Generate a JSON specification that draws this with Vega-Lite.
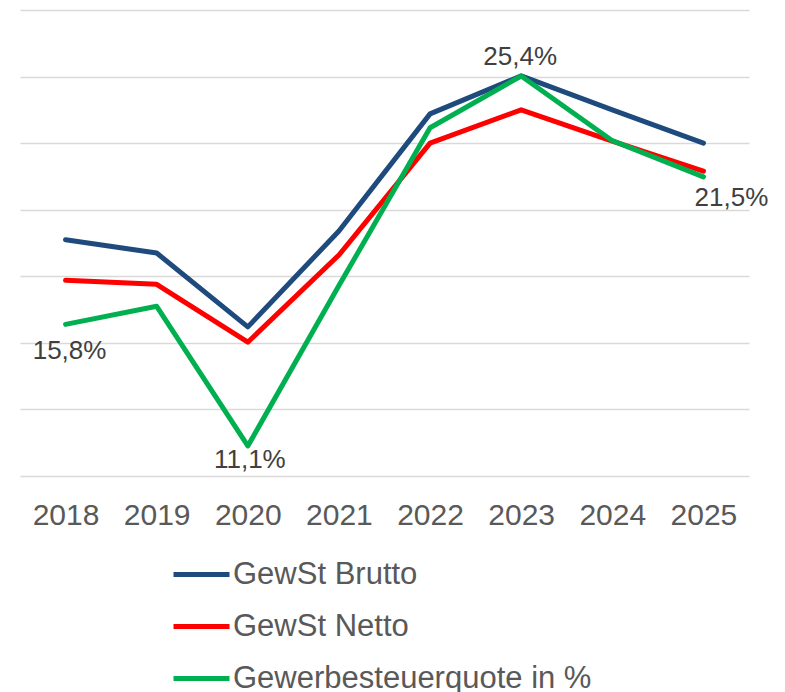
{
  "$schema": "https://vega.github.io/schema/vega-lite/v6.json",
  "width": 729,
  "height": 466,
  "autosize": "none",
  "padding": {"left": 20, "top": 10, "right": 36, "bottom": 216},
  "background": "white",
  "config": {"view": {"stroke": null}, "font": "Liberation Sans"},
  "data": {
    "values": [
      {"year": "2018", "series": "GewSt Brutto", "value": 35.5},
      {"year": "2019", "series": "GewSt Brutto", "value": 33.5},
      {"year": "2020", "series": "GewSt Brutto", "value": 22.4},
      {"year": "2021", "series": "GewSt Brutto", "value": 36.8},
      {"year": "2022", "series": "GewSt Brutto", "value": 54.4},
      {"year": "2023", "series": "GewSt Brutto", "value": 60.1},
      {"year": "2024", "series": "GewSt Brutto", "value": 55.0},
      {"year": "2025", "series": "GewSt Brutto", "value": 50.0},
      {"year": "2018", "series": "GewSt Netto", "value": 29.4},
      {"year": "2019", "series": "GewSt Netto", "value": 28.8},
      {"year": "2020", "series": "GewSt Netto", "value": 20.1},
      {"year": "2021", "series": "GewSt Netto", "value": 33.2},
      {"year": "2022", "series": "GewSt Netto", "value": 50.0},
      {"year": "2023", "series": "GewSt Netto", "value": 55.0},
      {"year": "2024", "series": "GewSt Netto", "value": 50.3},
      {"year": "2025", "series": "GewSt Netto", "value": 45.8},
      {"year": "2018", "series": "Gewerbesteuerquote in %", "value": 15.8, "label": "15,8%"},
      {"year": "2019", "series": "Gewerbesteuerquote in %", "value": 16.5},
      {"year": "2020", "series": "Gewerbesteuerquote in %", "value": 11.1, "label": "11,1%"},
      {"year": "2021", "series": "Gewerbesteuerquote in %", "value": 17.3},
      {"year": "2022", "series": "Gewerbesteuerquote in %", "value": 23.4},
      {"year": "2023", "series": "Gewerbesteuerquote in %", "value": 25.4, "label": "25,4%"},
      {"year": "2024", "series": "Gewerbesteuerquote in %", "value": 22.9},
      {"year": "2025", "series": "Gewerbesteuerquote in %", "value": 21.5, "label": "21,5%"}
    ]
  },
  "encoding": {
    "x": {
      "field": "year",
      "type": "ordinal",
      "scale": {"type": "point", "padding": 0.5},
      "axis": {
        "title": null,
        "labelAngle": 0,
        "labelFontSize": 30,
        "labelColor": "#595959",
        "labelPadding": 24,
        "ticks": false,
        "domain": false,
        "grid": false
      }
    }
  },
  "layer": [
    {
      "transform": [{"filter": "datum.series !== 'Gewerbesteuerquote in %'"}],
      "mark": {"type": "line", "strokeWidth": 5, "strokeCap": "round", "strokeJoin": "round"},
      "encoding": {
        "y": {
          "field": "value",
          "type": "quantitative",
          "scale": {"domain": [0, 70], "nice": false, "zero": false},
          "axis": {
            "values": [0, 10, 20, 30, 40, 50, 60, 70],
            "labels": false,
            "ticks": false,
            "domain": false,
            "title": null,
            "grid": true,
            "gridColor": "#D9D9D9",
            "gridWidth": 1.5
          }
        },
        "color": {
          "field": "series",
          "type": "nominal",
          "scale": {
            "domain": ["GewSt Brutto", "GewSt Netto", "Gewerbesteuerquote in %"],
            "range": ["#1F4A7E", "#FF0000", "#00B050"]
          },
          "legend": {
            "title": null,
            "orient": "none",
            "legendX": 151,
            "legendY": 534,
            "direction": "vertical",
            "symbolType": "stroke",
            "symbolSize": 3136,
            "symbolStrokeWidth": 5,
            "labelFontSize": 31,
            "labelColor": "#595959",
            "labelOffset": 1,
            "rowPadding": 6,
            "padding": 0,
            "labelLimit": 600
          }
        }
      }
    },
    {
      "transform": [{"filter": "datum.series === 'Gewerbesteuerquote in %'"}],
      "layer": [
        {
          "mark": {"type": "line", "strokeWidth": 5, "strokeCap": "round", "strokeJoin": "round"},
          "encoding": {
            "color": {"field": "series", "type": "nominal"}
          }
        },
        {
          "transform": [{"filter": "datum.year === '2018'"}],
          "mark": {"type": "text", "fontSize": 26, "color": "#404040", "baseline": "top", "dy": 14, "dx": 4},
          "encoding": {"text": {"field": "label"}}
        },
        {
          "transform": [{"filter": "datum.year === '2020'"}],
          "mark": {"type": "text", "fontSize": 26, "color": "#404040", "baseline": "top", "dy": 1, "dx": 2},
          "encoding": {"text": {"field": "label"}}
        },
        {
          "transform": [{"filter": "datum.year === '2023'"}],
          "mark": {"type": "text", "fontSize": 26, "color": "#404040", "baseline": "bottom", "dy": -6, "dx": -1},
          "encoding": {"text": {"field": "label"}}
        },
        {
          "transform": [{"filter": "datum.year === '2025'"}],
          "mark": {"type": "text", "fontSize": 26, "color": "#404040", "baseline": "top", "dy": 8, "dx": 28},
          "encoding": {"text": {"field": "label"}}
        }
      ],
      "encoding": {
        "y": {
          "field": "value",
          "type": "quantitative",
          "scale": {"domain": [9.94, 27.95], "nice": false, "zero": false},
          "axis": null
        }
      }
    }
  ],
  "resolve": {"scale": {"y": "independent"}}
}
